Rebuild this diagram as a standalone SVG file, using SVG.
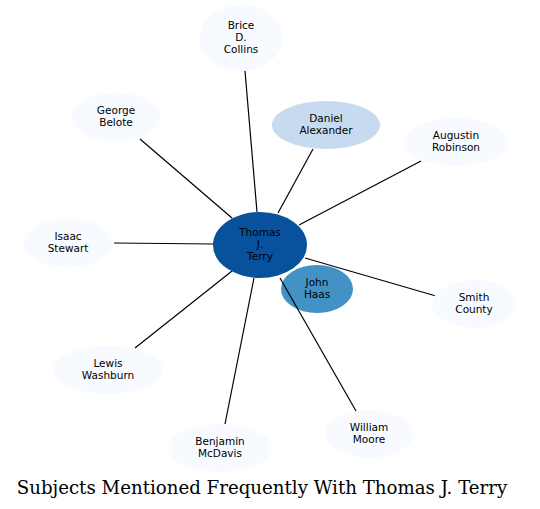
<svg xmlns="http://www.w3.org/2000/svg" width="540" height="509" viewBox="0 0 540 509">
<style>
text{font-family:"DejaVu Sans",sans-serif;font-size:10.5px;text-anchor:middle;fill:#000}
.e{stroke:#000;stroke-width:1.2;fill:none}
.l{fill:#f7fbff}
.title{font-family:"DejaVu Serif",serif;font-size:18.2px}
</style>
<rect width="540" height="509" fill="#fff"/>
<g id="john-haas"><ellipse cx="317" cy="289" rx="36" ry="24" fill="#4292c6"/><text x="317" y="286">John</text><text x="317" y="298">Haas</text></g>
<g id="connectors">
<line class="e" x1="257" y1="212" x2="245" y2="71"/>
<line class="e" x1="232" y1="218" x2="140" y2="139"/>
<line class="e" x1="278" y1="213" x2="313" y2="149"/>
<line class="e" x1="299" y1="225" x2="421" y2="161"/>
<line class="e" x1="213" y1="244" x2="114" y2="243"/>
<line class="e" x1="305" y1="258" x2="436" y2="296"/>
<line class="e" x1="232" y1="271" x2="135" y2="348"/>
<line class="e" x1="254" y1="278" x2="225" y2="424"/>
<line class="e" x1="280" y1="278" x2="356" y2="411"/>
</g>
<g id="thomas-terry"><ellipse cx="260" cy="245" rx="47" ry="33" fill="#08519c"/><text x="260" y="236">Thomas</text><text x="260" y="248">J.</text><text x="260" y="260">Terry</text></g>
<g id="brice-collins"><ellipse class="l" cx="241" cy="38" rx="42" ry="33"/><text x="241" y="29">Brice</text><text x="241" y="41">D.</text><text x="241" y="53">Collins</text></g>
<g id="daniel-alexander"><ellipse cx="326" cy="125" rx="54" ry="24" fill="#c6dbef"/><text x="326" y="122">Daniel</text><text x="326" y="134">Alexander</text></g>
<g id="george-belote"><ellipse class="l" cx="116" cy="117" rx="45" ry="24"/><text x="116" y="114">George</text><text x="116" y="126">Belote</text></g>
<g id="augustin-robinson"><ellipse class="l" cx="456" cy="142" rx="52" ry="24"/><text x="456" y="139">Augustin</text><text x="456" y="151">Robinson</text></g>
<g id="isaac-stewart"><ellipse class="l" cx="68" cy="243" rx="45" ry="24"/><text x="68" y="240">Isaac</text><text x="68" y="252">Stewart</text></g>
<g id="smith-county"><ellipse class="l" cx="474" cy="304" rx="42" ry="24"/><text x="474" y="301">Smith</text><text x="474" y="313">County</text></g>
<g id="lewis-washburn"><ellipse class="l" cx="108" cy="370" rx="55" ry="24"/><text x="108" y="367">Lewis</text><text x="108" y="379">Washburn</text></g>
<g id="benjamin-mcdavis"><ellipse class="l" cx="220" cy="448" rx="52" ry="24"/><text x="220" y="445">Benjamin</text><text x="220" y="457">McDavis</text></g>
<g id="william-moore"><ellipse class="l" cx="369" cy="434" rx="44" ry="24"/><text x="369" y="431">William</text><text x="369" y="443">Moore</text></g>
<text class="title" x="262" y="494">Subjects Mentioned Frequently With Thomas J. Terry</text>
</svg>
